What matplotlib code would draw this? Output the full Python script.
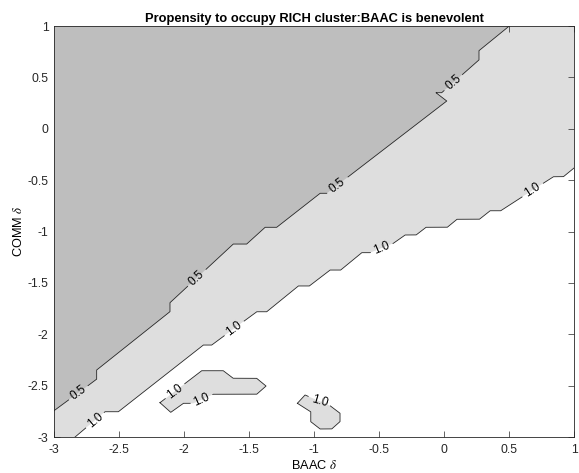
import numpy as np
import matplotlib
matplotlib.use("Agg")
import matplotlib.pyplot as plt

plt.rcParams['font.family'] = ['Liberation Sans', 'DejaVu Sans']
plt.rcParams['mathtext.fontset'] = 'stix'

# contour lines (BAAC delta, COMM delta)
c05_x = [-3.0, -2.672, -2.672, -2.108, -2.108, -1.621, -1.518, -1.377, -1.287,
         -0.954, -0.902, 0.021, -0.062, -0.018, 0.269, 0.269, 0.502]
c05_y = [-2.744, -2.438, -2.348, -1.781, -1.693, -1.122, -1.122, -0.959, -0.959,
         -0.628, -0.628, 0.270, 0.351, 0.351, 0.669, 0.760, 1.0]

c10_x = [-2.838, -2.608, -2.505, -1.852, -1.787, -1.441, -1.364, -1.121, -1.036,
         -0.877, -0.795, -0.633, -0.569, -0.390, -0.300, -0.215, -0.138, 0.025,
         0.100, 0.272, 0.354, 0.436, 0.841, 0.918, 1.0]
c10_y = [-3.0, -2.754, -2.754, -2.105, -2.105, -1.781, -1.781, -1.530, -1.530,
         -1.375, -1.375, -1.206, -1.206, -1.115, -1.034, -1.034, -0.959, -0.959,
         -0.881, -0.881, -0.798, -0.798, -0.467, -0.467, -0.382]

# small closed 1.0 islands
isl1_x = [-2.185, -2.102, -2.005, -1.928, -1.775, -1.441, -1.369, -1.441, -1.621, -1.698, -1.864]
isl1_y = [-2.666, -2.760, -2.672, -2.672, -2.584, -2.584, -2.504, -2.429, -2.429, -2.355, -2.355]
isl2_x = [-1.128, -1.025, -1.025, -0.954, -0.864, -0.800, -0.800, -0.877, -1.069]
isl2_y = [-2.672, -2.754, -2.851, -2.922, -2.922, -2.851, -2.769, -2.695, -2.591]

# contour labels: (x, y, rotation)
lab05 = [(-2.813, -2.570, 36), (-1.902, -1.451, 43), (-0.821, -0.549, 37.5), (0.072, 0.451, 41)]
lab10 = [(-2.685, -2.836, 40), (-1.615, -1.944, 36.5), (-0.479, -1.160, 22), (0.682, -0.597, 33)]
lab_isl1 = [(-2.069, -2.554, 37), (-1.864, -2.635, 24)]
lab_isl2 = [(-0.959, -2.651, -16)]

ticks = [-3, -2.5, -2, -1.5, -1, -0.5, 0, 0.5, 1]
tick_labels = ['-3', '-2.5', '-2', '-1.5', '-1', '-0.5', '0', '0.5', '1']

dark = '#bebebe'
light = '#dedede'
edge = '#262626'

fig = plt.figure(figsize=(5.79, 4.73), dpi=100)
ax = fig.add_axes([0.0933, 0.0761, 0.8981, 0.8689])
ax.set_xlim(-3, 1)
ax.set_ylim(-3, 1)
ax.set_facecolor('white')

# filled bands
ax.fill(c10_x + [1, -3, -3], c10_y + [1, 1, -3], color=light, lw=0, zorder=1)
ax.fill(c05_x + [-3], c05_y + [1], color=dark, lw=0, zorder=2)
ax.fill(isl1_x, isl1_y, color=light, lw=0, zorder=2)
ax.fill(isl2_x, isl2_y, color=light, lw=0, zorder=2)


def contour_line(xs, ys, labels, txt, closed=False, r=12):
    xs, ys = list(xs), list(ys)
    if closed:
        xs.append(xs[0]); ys.append(ys[0])
    pts = ax.transData.transform(np.column_stack([xs, ys]))
    t = np.linspace(0, 1, 80)[:, None]
    dense = np.vstack([p + t * (q - p) for p, q in zip(pts[:-1], pts[1:])])
    mask = np.zeros(len(dense), bool)
    for lx, ly, rot in labels:
        cp = ax.transData.transform((lx, ly))
        mask |= np.hypot(dense[:, 0] - cp[0], dense[:, 1] - cp[1]) < r
    line = ax.transData.inverted().transform(dense)
    line[mask] = np.nan
    ax.plot(line[:, 0], line[:, 1], color=edge, lw=0.6, zorder=3)
    for lx, ly, rot in labels:
        ax.text(lx, ly, txt, rotation=rot, ha='center', va='center',
                fontsize=8.5, color='black', rotation_mode='anchor', zorder=4)


contour_line(c05_x, c05_y, lab05, '0.5')
contour_line(c10_x, c10_y, lab10, '1.0')
contour_line(isl1_x, isl1_y, lab_isl1, '1.0', closed=True)
contour_line(isl2_x, isl2_y, lab_isl2, '1.0', closed=True)

ax.set_xticks(ticks)
ax.set_xticklabels(tick_labels)
ax.set_yticks(ticks)
ax.set_yticklabels(tick_labels)
ax.tick_params(direction='in', length=4, width=0.5, top=True, right=True,
               labelsize=8.8, colors='#262626', pad=4)
ax.tick_params(axis='x', pad=5)
for s in ax.spines.values():
    s.set_linewidth(0.6)
    s.set_color('#262626')

ax.set_title('Propensity to occupy RICH cluster:BAAC is benevolent',
             fontsize=9.3, fontweight='bold', pad=3)
ax.set_xlabel(r'BAAC $\delta$', fontsize=9.2, labelpad=2)
ax.set_ylabel(r'COMM $\delta$', fontsize=9.2, labelpad=2)

fig.savefig('out.png', dpi=100)
